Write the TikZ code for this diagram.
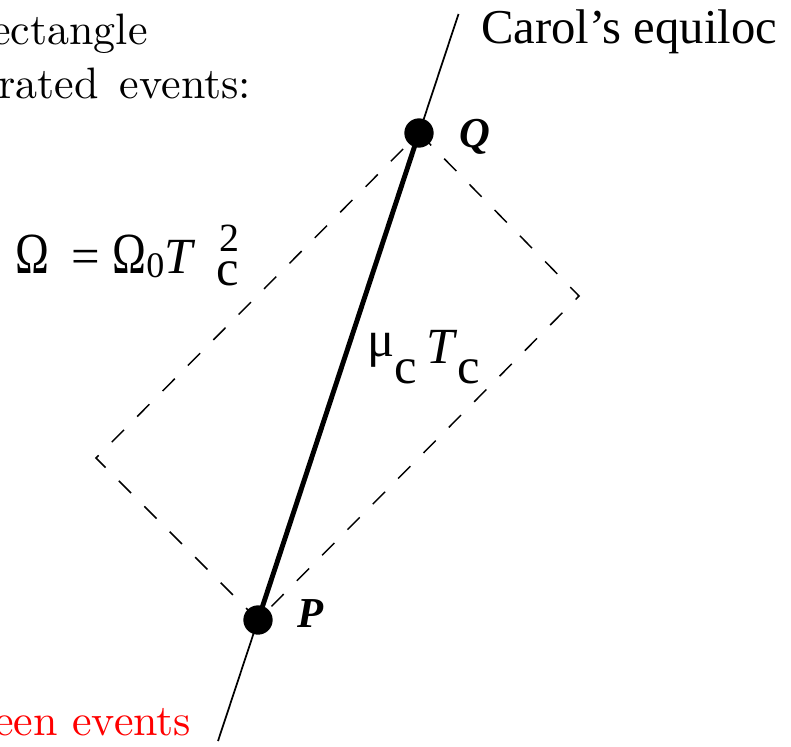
\documentclass[tikz,border=0pt]{standalone}
\usepackage{fontspec}
\newfontfamily\tms{Liberation Serif}
\newfontfamily\lmten{lmroman10-regular.otf}
\begin{document}
\begin{tikzpicture}[x=0.75pt,y=-0.75pt,
  thinline/.style={line width=1.3pt},
  thickline/.style={line width=3.7pt},
  dashline/.style={line width=1.1pt,dash pattern=on 13pt off 14pt},
  dot/.style={circle,fill=black,inner sep=0pt,minimum size=22pt},
  lmtext/.style={anchor=base west,inner sep=0pt,font=\lmten\fontsize{33}{38}\selectfont},
  tmtext/.style={anchor=base west,inner sep=0pt},
  evlabel/.style={tmtext,font=\fontsize{32}{34}\tms\bfseries\itshape}]
\useasboundingbox (0,0) rectangle (791,746);
\coordinate (P) at (258,620);
\coordinate (Q) at (419,133);
\coordinate (R) at (579,296);
\coordinate (L) at (96,458);
\coordinate (top) at (458.5,14);
\coordinate (bot) at (218,741);
\draw[thinline] (bot) -- (top);
\draw[dashline] (Q) -- (R) -- (P) -- (L) -- cycle;
\draw[thickline] (P) -- (Q);
\node[dot] (Pd) at (P) {};
\node[dot] (Qd) at (Q) {};
\node[evlabel] (Ql) at (459,147) {Q};
\node[evlabel] (Pl) at (297,627) {P};
\node[tmtext,font=\fontsize{36.5}{40}\tms] (carol) at (481,43) {Carol’s equiloc};
\node[lmtext] (t1) at (-9,44) {ectangle};
\node[lmtext] (t2) at (-2,98) {rated\hspace{16pt}events:};
\node[lmtext,text=red] (t3) at (-6,735) {een events};
\node[tmtext,font=\fontsize{38}{40}\tms] (omega) at (15,273)
  {\scalebox{0.9}[1.15]{Ω}\hspace{17pt}=\hspace{9pt}\scalebox{0.9}[1.15]{Ω}\raisebox{-3pt}{\fontsize{27}{27}\selectfont 0}\textit{T}\hspace{16pt}\rlap{\hspace{2pt}\raisebox{16.5pt}{\fontsize{30}{30}\selectfont 2}}\raisebox{-9pt}{c}};
\node[tmtext,font=\fontsize{38}{40}\tms] (mu) at (367,363)
  {\raisebox{5pt}{μ}\raisebox{-15pt}{c}\hspace{7pt}\textit{T}\raisebox{-15pt}{c}};
\end{tikzpicture}
\end{document}
